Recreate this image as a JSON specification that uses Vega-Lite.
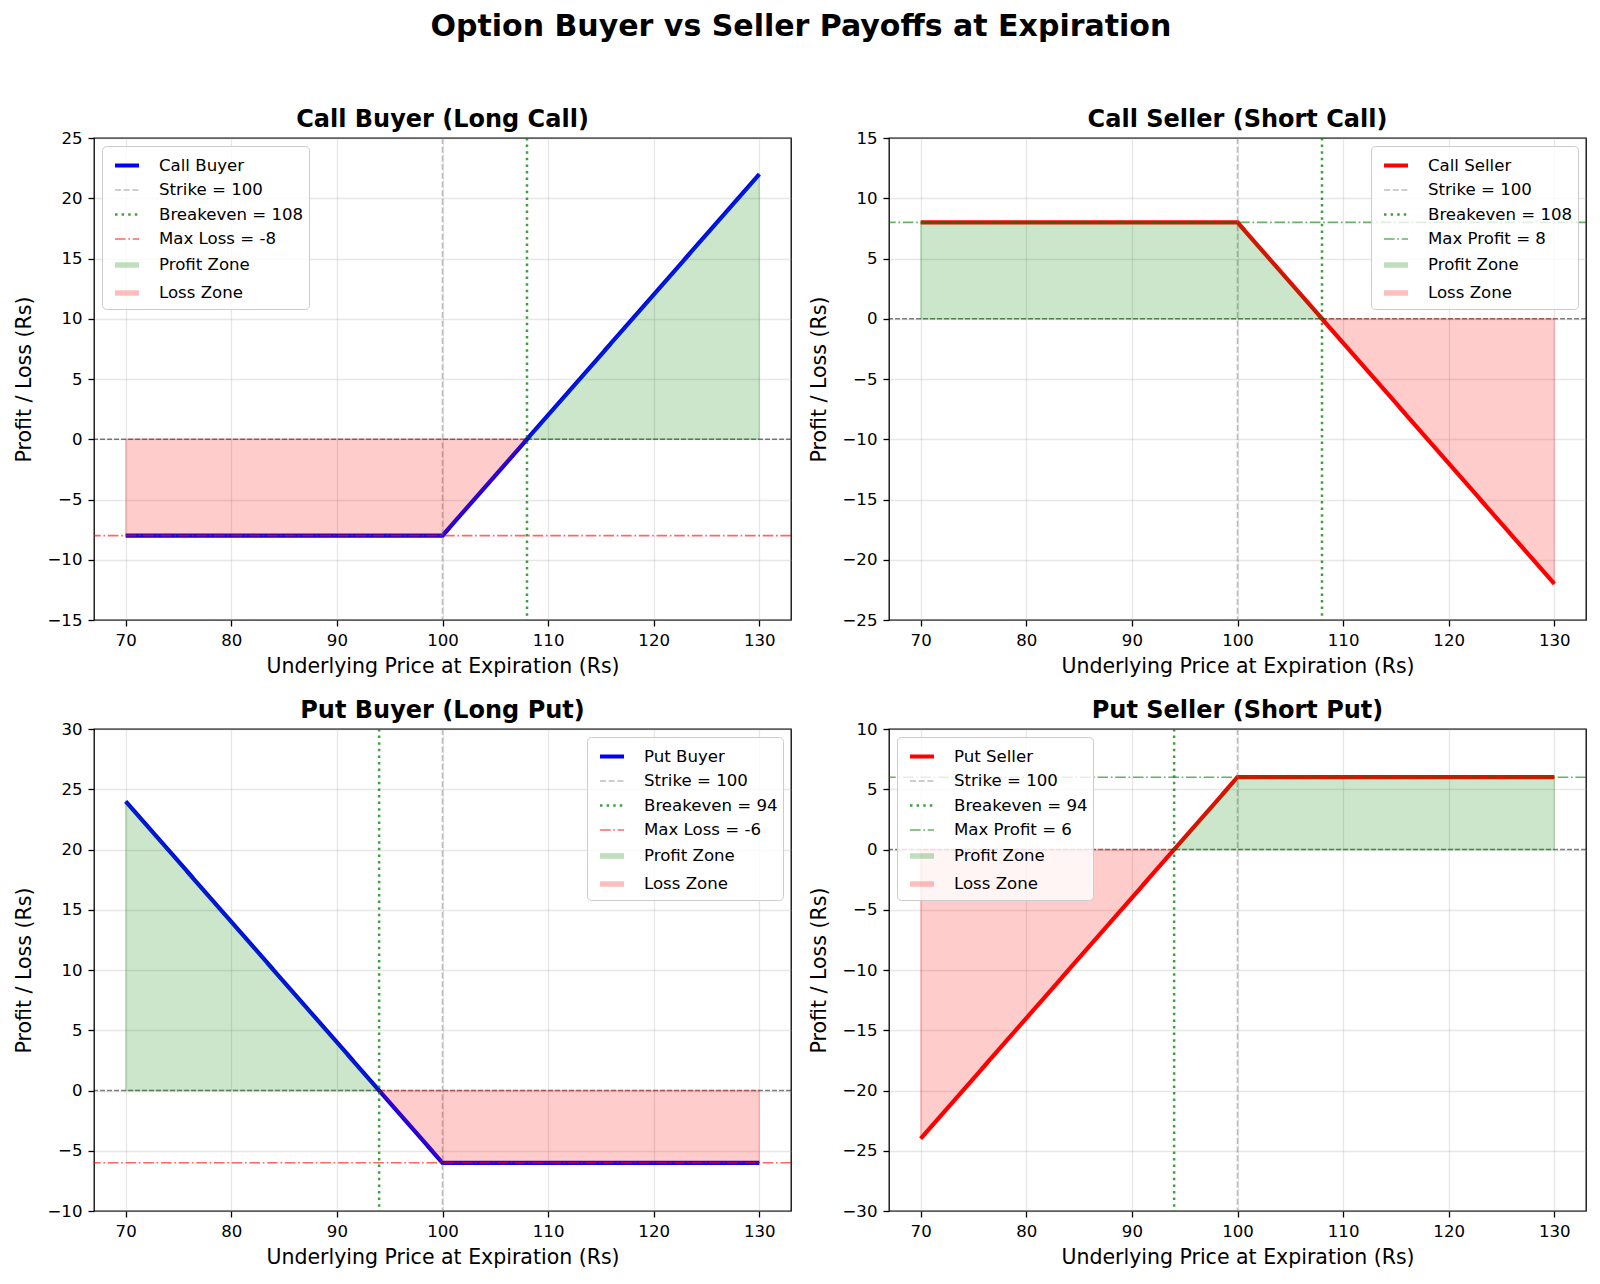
{
  "$schema": "https://vega.github.io/schema/vega-lite/v6.json",
  "background": "white",
  "padding": {"left": 14, "top": 12, "right": 12, "bottom": 14},
  "title": {"text": "Option Buyer vs Seller Payoffs at Expiration", "fontSize": 30, "fontWeight": "bold", "font": "DejaVu Sans", "color": "black", "anchor": "middle", "offset": 65},
  "columns": 2,
  "spacing": {"row": 20, "column": 16},
  "resolve": {"scale": {"color": "independent", "x": "independent", "y": "independent", "strokeDash": "independent", "strokeWidth": "independent", "opacity": "independent"}, "legend": {"color": "independent", "strokeDash": "independent", "strokeWidth": "independent", "opacity": "independent"}},
  "config": {
    "font": "DejaVu Sans",
    "view": {"stroke": "black", "strokeWidth": 1.3},
    "axis": {"grid": true, "gridColor": "#b0b0b0", "gridOpacity": 0.3, "gridWidth": 1.3, "domain": false, "tickColor": "black", "tickSize": 6, "tickWidth": 1.3, "labelFontSize": 16.6, "labelColor": "black", "labelPadding": 6, "titleFontSize": 20.5, "titleFontWeight": "normal", "titleColor": "black", "titlePadding": 8},
    "axisY": {"titlePadding": 12},
    "legend": {"labelFontSize": 16.6, "labelColor": "black", "symbolSize": 576, "rowPadding": 2, "padding": 5, "fillColor": "rgba(255,255,255,0.8)", "strokeColor": "#cccccc", "cornerRadius": 4, "offset": 8, "labelLimit": 400, "symbolOffset": 5, "labelOffset": 17, "symbolType": "stroke"}
  },
  "concat": [
    {
      "title": {"text": "Call Buyer (Long Call)", "fontSize": 24, "fontWeight": "bold", "color": "black", "frame": "group", "anchor": "middle", "offset": -2},
      "width": 697, "height": 482,
      "layer": [
        {"data": {"values": [{"x": 70, "y": -8, "s": "Call Buyer"}, {"x": 100, "y": -8, "s": "Call Buyer"}, {"x": 130, "y": 22, "s": "Call Buyer"}]},
         "mark": {"type": "line"},
         "encoding": {
           "x": {"field": "x", "type": "quantitative", "scale": {"domain": [67, 133], "nice": false, "zero": false}, "axis": {"values": [70, 80, 90, 100, 110, 120, 130], "title": "Underlying Price at Expiration (Rs)"}},
           "y": {"field": "y", "type": "quantitative", "scale": {"domain": [-15, 25], "nice": false, "zero": false}, "axis": {"values": [-15, -10, -5, 0, 5, 10, 15, 20, 25], "title": "Profit / Loss (Rs)"}},
           "color": {"field": "s", "type": "nominal", "sort": null, "scale": {"domain": ["Call Buyer", "Strike = 100", "Breakeven = 108", "Max Loss = -8", "Profit Zone", "Loss Zone"], "range": ["#0000ff", "#808080", "#008000", "#ff0000", "#008000", "#ff0000"]}, "legend": {"title": null, "orient": "top-left"}},
           "strokeDash": {"field": "s", "type": "nominal", "sort": null, "scale": {"domain": ["Call Buyer", "Strike = 100", "Breakeven = 108", "Max Loss = -8", "Profit Zone", "Loss Zone"], "range": [[1, 0], [6, 2.7], [2.5, 4.1], [10.6, 2.7, 1.7, 2.7], [1, 0], [1, 0]]}, "legend": {"title": null, "orient": "top-left"}},
           "strokeWidth": {"field": "s", "type": "nominal", "sort": null, "scale": {"type": "ordinal", "domain": ["Call Buyer", "Strike = 100", "Breakeven = 108", "Max Loss = -8", "Profit Zone", "Loss Zone"], "range": [4.2, 1.6, 2.5, 1.6, 5.5, 5.5]}, "legend": {"title": null, "orient": "top-left"}},
           "opacity": {"field": "s", "type": "nominal", "sort": null, "scale": {"type": "ordinal", "domain": ["Call Buyer", "Strike = 100", "Breakeven = 108", "Max Loss = -8", "Profit Zone", "Loss Zone"], "range": [1, 0.5, 0.75, 0.6, 0.25, 0.25]}, "legend": {"title": null, "orient": "top-left"}}
         }},
        {"data": {"values": [{"y": 0}]}, "mark": {"type": "rule", "color": "black", "opacity": 0.5, "strokeDash": [4.9, 2.1], "strokeWidth": 1.3}, "encoding": {"y": {"field": "y", "type": "quantitative"}}},
        {"data": {"values": [{"x": 100, "s": "Strike = 100"}]}, "mark": {"type": "rule", "opacity": 0.5, "strokeWidth": 1.6}, "encoding": {"x": {"field": "x", "type": "quantitative"}, "color": {"field": "s", "type": "nominal"}, "strokeDash": {"field": "s", "type": "nominal"}}},
        {"data": {"values": [{"x": 108, "s": "Breakeven = 108"}]}, "mark": {"type": "rule", "opacity": 0.75, "strokeWidth": 2.5}, "encoding": {"x": {"field": "x", "type": "quantitative"}, "color": {"field": "s", "type": "nominal"}, "strokeDash": {"field": "s", "type": "nominal"}}},
        {"data": {"values": [{"y": -8, "s": "Max Loss = -8"}]}, "mark": {"type": "rule", "opacity": 0.6, "strokeWidth": 1.6}, "encoding": {"y": {"field": "y", "type": "quantitative"}, "color": {"field": "s", "type": "nominal"}, "strokeDash": {"field": "s", "type": "nominal"}}},
        {"data": {"values": [{"x": 108, "y": 0, "s": "Profit Zone"}, {"x": 130, "y": 22, "s": "Profit Zone"}]}, "mark": {"type": "area", "fillOpacity": 0.2, "stroke": "#008000", "strokeOpacity": 0.2, "strokeWidth": 1.3}, "encoding": {"x": {"field": "x", "type": "quantitative"}, "y": {"field": "y", "type": "quantitative"}, "y2": {"datum": 0}, "color": {"field": "s", "type": "nominal"}}},
        {"data": {"values": [{"x": 70, "y": -8, "s": "Loss Zone"}, {"x": 100, "y": -8, "s": "Loss Zone"}, {"x": 108, "y": 0, "s": "Loss Zone"}]}, "mark": {"type": "area", "fillOpacity": 0.2, "stroke": "#ff0000", "strokeOpacity": 0.2, "strokeWidth": 1.3}, "encoding": {"x": {"field": "x", "type": "quantitative"}, "y": {"field": "y", "type": "quantitative"}, "y2": {"datum": 0}, "color": {"field": "s", "type": "nominal"}}}
      ]
    },
    {
      "title": {"text": "Call Seller (Short Call)", "fontSize": 24, "fontWeight": "bold", "color": "black", "frame": "group", "anchor": "middle", "offset": -2},
      "width": 697, "height": 482,
      "layer": [
        {"data": {"values": [{"x": 70, "y": 8, "s": "Call Seller"}, {"x": 100, "y": 8, "s": "Call Seller"}, {"x": 130, "y": -22, "s": "Call Seller"}]},
         "mark": {"type": "line"},
         "encoding": {
           "x": {"field": "x", "type": "quantitative", "scale": {"domain": [67, 133], "nice": false, "zero": false}, "axis": {"values": [70, 80, 90, 100, 110, 120, 130], "title": "Underlying Price at Expiration (Rs)"}},
           "y": {"field": "y", "type": "quantitative", "scale": {"domain": [-25, 15], "nice": false, "zero": false}, "axis": {"values": [-25, -20, -15, -10, -5, 0, 5, 10, 15], "title": "Profit / Loss (Rs)"}},
           "color": {"field": "s", "type": "nominal", "sort": null, "scale": {"domain": ["Call Seller", "Strike = 100", "Breakeven = 108", "Max Profit = 8", "Profit Zone", "Loss Zone"], "range": ["#ff0000", "#808080", "#008000", "#008000", "#008000", "#ff0000"]}, "legend": {"title": null, "orient": "top-right"}},
           "strokeDash": {"field": "s", "type": "nominal", "sort": null, "scale": {"domain": ["Call Seller", "Strike = 100", "Breakeven = 108", "Max Profit = 8", "Profit Zone", "Loss Zone"], "range": [[1, 0], [6, 2.7], [2.5, 4.1], [10.6, 2.7, 1.7, 2.7], [1, 0], [1, 0]]}, "legend": {"title": null, "orient": "top-right"}},
           "strokeWidth": {"field": "s", "type": "nominal", "sort": null, "scale": {"type": "ordinal", "domain": ["Call Seller", "Strike = 100", "Breakeven = 108", "Max Profit = 8", "Profit Zone", "Loss Zone"], "range": [4.2, 1.6, 2.5, 1.6, 5.5, 5.5]}, "legend": {"title": null, "orient": "top-right"}},
           "opacity": {"field": "s", "type": "nominal", "sort": null, "scale": {"type": "ordinal", "domain": ["Call Seller", "Strike = 100", "Breakeven = 108", "Max Profit = 8", "Profit Zone", "Loss Zone"], "range": [1, 0.5, 0.75, 0.6, 0.25, 0.25]}, "legend": {"title": null, "orient": "top-right"}}
         }},
        {"data": {"values": [{"y": 0}]}, "mark": {"type": "rule", "color": "black", "opacity": 0.5, "strokeDash": [4.9, 2.1], "strokeWidth": 1.3}, "encoding": {"y": {"field": "y", "type": "quantitative"}}},
        {"data": {"values": [{"x": 100, "s": "Strike = 100"}]}, "mark": {"type": "rule", "opacity": 0.5, "strokeWidth": 1.6}, "encoding": {"x": {"field": "x", "type": "quantitative"}, "color": {"field": "s", "type": "nominal"}, "strokeDash": {"field": "s", "type": "nominal"}}},
        {"data": {"values": [{"x": 108, "s": "Breakeven = 108"}]}, "mark": {"type": "rule", "opacity": 0.75, "strokeWidth": 2.5}, "encoding": {"x": {"field": "x", "type": "quantitative"}, "color": {"field": "s", "type": "nominal"}, "strokeDash": {"field": "s", "type": "nominal"}}},
        {"data": {"values": [{"y": 8, "s": "Max Profit = 8"}]}, "mark": {"type": "rule", "opacity": 0.6, "strokeWidth": 1.6}, "encoding": {"y": {"field": "y", "type": "quantitative"}, "color": {"field": "s", "type": "nominal"}, "strokeDash": {"field": "s", "type": "nominal"}}},
        {"data": {"values": [{"x": 70, "y": 8, "s": "Profit Zone"}, {"x": 100, "y": 8, "s": "Profit Zone"}, {"x": 108, "y": 0, "s": "Profit Zone"}]}, "mark": {"type": "area", "fillOpacity": 0.2, "stroke": "#008000", "strokeOpacity": 0.2, "strokeWidth": 1.3}, "encoding": {"x": {"field": "x", "type": "quantitative"}, "y": {"field": "y", "type": "quantitative"}, "y2": {"datum": 0}, "color": {"field": "s", "type": "nominal"}}},
        {"data": {"values": [{"x": 108, "y": 0, "s": "Loss Zone"}, {"x": 130, "y": -22, "s": "Loss Zone"}]}, "mark": {"type": "area", "fillOpacity": 0.2, "stroke": "#ff0000", "strokeOpacity": 0.2, "strokeWidth": 1.3}, "encoding": {"x": {"field": "x", "type": "quantitative"}, "y": {"field": "y", "type": "quantitative"}, "y2": {"datum": 0}, "color": {"field": "s", "type": "nominal"}}}
      ]
    },
    {
      "title": {"text": "Put Buyer (Long Put)", "fontSize": 24, "fontWeight": "bold", "color": "black", "frame": "group", "anchor": "middle", "offset": -2},
      "width": 697, "height": 482,
      "layer": [
        {"data": {"values": [{"x": 70, "y": 24, "s": "Put Buyer"}, {"x": 100, "y": -6, "s": "Put Buyer"}, {"x": 130, "y": -6, "s": "Put Buyer"}]},
         "mark": {"type": "line"},
         "encoding": {
           "x": {"field": "x", "type": "quantitative", "scale": {"domain": [67, 133], "nice": false, "zero": false}, "axis": {"values": [70, 80, 90, 100, 110, 120, 130], "title": "Underlying Price at Expiration (Rs)"}},
           "y": {"field": "y", "type": "quantitative", "scale": {"domain": [-10, 30], "nice": false, "zero": false}, "axis": {"values": [-10, -5, 0, 5, 10, 15, 20, 25, 30], "title": "Profit / Loss (Rs)"}},
           "color": {"field": "s", "type": "nominal", "sort": null, "scale": {"domain": ["Put Buyer", "Strike = 100", "Breakeven = 94", "Max Loss = -6", "Profit Zone", "Loss Zone"], "range": ["#0000ff", "#808080", "#008000", "#ff0000", "#008000", "#ff0000"]}, "legend": {"title": null, "orient": "top-right"}},
           "strokeDash": {"field": "s", "type": "nominal", "sort": null, "scale": {"domain": ["Put Buyer", "Strike = 100", "Breakeven = 94", "Max Loss = -6", "Profit Zone", "Loss Zone"], "range": [[1, 0], [6, 2.7], [2.5, 4.1], [10.6, 2.7, 1.7, 2.7], [1, 0], [1, 0]]}, "legend": {"title": null, "orient": "top-right"}},
           "strokeWidth": {"field": "s", "type": "nominal", "sort": null, "scale": {"type": "ordinal", "domain": ["Put Buyer", "Strike = 100", "Breakeven = 94", "Max Loss = -6", "Profit Zone", "Loss Zone"], "range": [4.2, 1.6, 2.5, 1.6, 5.5, 5.5]}, "legend": {"title": null, "orient": "top-right"}},
           "opacity": {"field": "s", "type": "nominal", "sort": null, "scale": {"type": "ordinal", "domain": ["Put Buyer", "Strike = 100", "Breakeven = 94", "Max Loss = -6", "Profit Zone", "Loss Zone"], "range": [1, 0.5, 0.75, 0.6, 0.25, 0.25]}, "legend": {"title": null, "orient": "top-right"}}
         }},
        {"data": {"values": [{"y": 0}]}, "mark": {"type": "rule", "color": "black", "opacity": 0.5, "strokeDash": [4.9, 2.1], "strokeWidth": 1.3}, "encoding": {"y": {"field": "y", "type": "quantitative"}}},
        {"data": {"values": [{"x": 100, "s": "Strike = 100"}]}, "mark": {"type": "rule", "opacity": 0.5, "strokeWidth": 1.6}, "encoding": {"x": {"field": "x", "type": "quantitative"}, "color": {"field": "s", "type": "nominal"}, "strokeDash": {"field": "s", "type": "nominal"}}},
        {"data": {"values": [{"x": 94, "s": "Breakeven = 94"}]}, "mark": {"type": "rule", "opacity": 0.75, "strokeWidth": 2.5}, "encoding": {"x": {"field": "x", "type": "quantitative"}, "color": {"field": "s", "type": "nominal"}, "strokeDash": {"field": "s", "type": "nominal"}}},
        {"data": {"values": [{"y": -6, "s": "Max Loss = -6"}]}, "mark": {"type": "rule", "opacity": 0.6, "strokeWidth": 1.6}, "encoding": {"y": {"field": "y", "type": "quantitative"}, "color": {"field": "s", "type": "nominal"}, "strokeDash": {"field": "s", "type": "nominal"}}},
        {"data": {"values": [{"x": 70, "y": 24, "s": "Profit Zone"}, {"x": 94, "y": 0, "s": "Profit Zone"}]}, "mark": {"type": "area", "fillOpacity": 0.2, "stroke": "#008000", "strokeOpacity": 0.2, "strokeWidth": 1.3}, "encoding": {"x": {"field": "x", "type": "quantitative"}, "y": {"field": "y", "type": "quantitative"}, "y2": {"datum": 0}, "color": {"field": "s", "type": "nominal"}}},
        {"data": {"values": [{"x": 94, "y": 0, "s": "Loss Zone"}, {"x": 100, "y": -6, "s": "Loss Zone"}, {"x": 130, "y": -6, "s": "Loss Zone"}]}, "mark": {"type": "area", "fillOpacity": 0.2, "stroke": "#ff0000", "strokeOpacity": 0.2, "strokeWidth": 1.3}, "encoding": {"x": {"field": "x", "type": "quantitative"}, "y": {"field": "y", "type": "quantitative"}, "y2": {"datum": 0}, "color": {"field": "s", "type": "nominal"}}}
      ]
    },
    {
      "title": {"text": "Put Seller (Short Put)", "fontSize": 24, "fontWeight": "bold", "color": "black", "frame": "group", "anchor": "middle", "offset": -2},
      "width": 697, "height": 482,
      "layer": [
        {"data": {"values": [{"x": 70, "y": -24, "s": "Put Seller"}, {"x": 100, "y": 6, "s": "Put Seller"}, {"x": 130, "y": 6, "s": "Put Seller"}]},
         "mark": {"type": "line"},
         "encoding": {
           "x": {"field": "x", "type": "quantitative", "scale": {"domain": [67, 133], "nice": false, "zero": false}, "axis": {"values": [70, 80, 90, 100, 110, 120, 130], "title": "Underlying Price at Expiration (Rs)"}},
           "y": {"field": "y", "type": "quantitative", "scale": {"domain": [-30, 10], "nice": false, "zero": false}, "axis": {"values": [-30, -25, -20, -15, -10, -5, 0, 5, 10], "title": "Profit / Loss (Rs)"}},
           "color": {"field": "s", "type": "nominal", "sort": null, "scale": {"domain": ["Put Seller", "Strike = 100", "Breakeven = 94", "Max Profit = 6", "Profit Zone", "Loss Zone"], "range": ["#ff0000", "#808080", "#008000", "#008000", "#008000", "#ff0000"]}, "legend": {"title": null, "orient": "top-left"}},
           "strokeDash": {"field": "s", "type": "nominal", "sort": null, "scale": {"domain": ["Put Seller", "Strike = 100", "Breakeven = 94", "Max Profit = 6", "Profit Zone", "Loss Zone"], "range": [[1, 0], [6, 2.7], [2.5, 4.1], [10.6, 2.7, 1.7, 2.7], [1, 0], [1, 0]]}, "legend": {"title": null, "orient": "top-left"}},
           "strokeWidth": {"field": "s", "type": "nominal", "sort": null, "scale": {"type": "ordinal", "domain": ["Put Seller", "Strike = 100", "Breakeven = 94", "Max Profit = 6", "Profit Zone", "Loss Zone"], "range": [4.2, 1.6, 2.5, 1.6, 5.5, 5.5]}, "legend": {"title": null, "orient": "top-left"}},
           "opacity": {"field": "s", "type": "nominal", "sort": null, "scale": {"type": "ordinal", "domain": ["Put Seller", "Strike = 100", "Breakeven = 94", "Max Profit = 6", "Profit Zone", "Loss Zone"], "range": [1, 0.5, 0.75, 0.6, 0.25, 0.25]}, "legend": {"title": null, "orient": "top-left"}}
         }},
        {"data": {"values": [{"y": 0}]}, "mark": {"type": "rule", "color": "black", "opacity": 0.5, "strokeDash": [4.9, 2.1], "strokeWidth": 1.3}, "encoding": {"y": {"field": "y", "type": "quantitative"}}},
        {"data": {"values": [{"x": 100, "s": "Strike = 100"}]}, "mark": {"type": "rule", "opacity": 0.5, "strokeWidth": 1.6}, "encoding": {"x": {"field": "x", "type": "quantitative"}, "color": {"field": "s", "type": "nominal"}, "strokeDash": {"field": "s", "type": "nominal"}}},
        {"data": {"values": [{"x": 94, "s": "Breakeven = 94"}]}, "mark": {"type": "rule", "opacity": 0.75, "strokeWidth": 2.5}, "encoding": {"x": {"field": "x", "type": "quantitative"}, "color": {"field": "s", "type": "nominal"}, "strokeDash": {"field": "s", "type": "nominal"}}},
        {"data": {"values": [{"y": 6, "s": "Max Profit = 6"}]}, "mark": {"type": "rule", "opacity": 0.6, "strokeWidth": 1.6}, "encoding": {"y": {"field": "y", "type": "quantitative"}, "color": {"field": "s", "type": "nominal"}, "strokeDash": {"field": "s", "type": "nominal"}}},
        {"data": {"values": [{"x": 94, "y": 0, "s": "Profit Zone"}, {"x": 100, "y": 6, "s": "Profit Zone"}, {"x": 130, "y": 6, "s": "Profit Zone"}]}, "mark": {"type": "area", "fillOpacity": 0.2, "stroke": "#008000", "strokeOpacity": 0.2, "strokeWidth": 1.3}, "encoding": {"x": {"field": "x", "type": "quantitative"}, "y": {"field": "y", "type": "quantitative"}, "y2": {"datum": 0}, "color": {"field": "s", "type": "nominal"}}},
        {"data": {"values": [{"x": 70, "y": -24, "s": "Loss Zone"}, {"x": 94, "y": 0, "s": "Loss Zone"}]}, "mark": {"type": "area", "fillOpacity": 0.2, "stroke": "#ff0000", "strokeOpacity": 0.2, "strokeWidth": 1.3}, "encoding": {"x": {"field": "x", "type": "quantitative"}, "y": {"field": "y", "type": "quantitative"}, "y2": {"datum": 0}, "color": {"field": "s", "type": "nominal"}}}
      ]
    }
  ]
}
